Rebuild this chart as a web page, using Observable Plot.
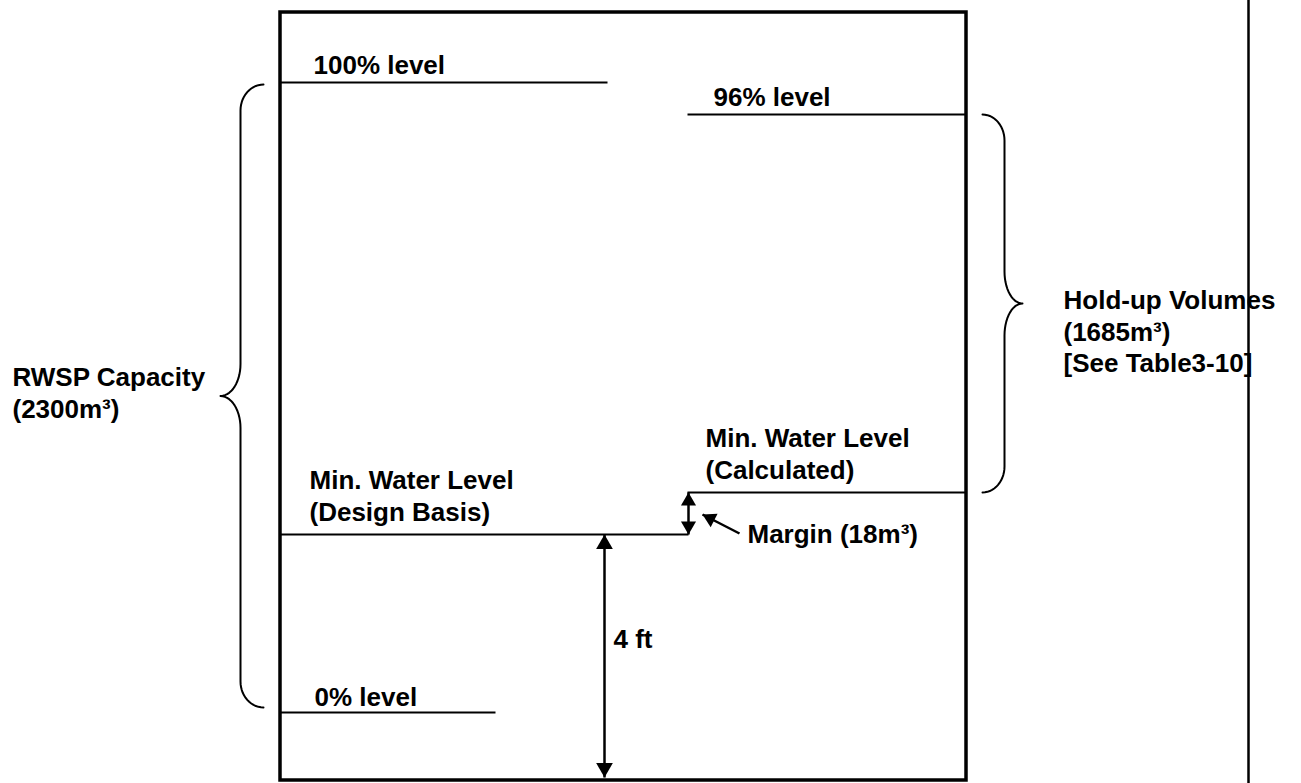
<!DOCTYPE html>
<html>
<head>
<meta charset="utf-8">
<script src="https://cdn.jsdelivr.net/npm/d3@7"></script>
<script src="https://cdn.jsdelivr.net/npm/@observablehq/plot@0.6"></script>
<style>
  html, body { margin: 0; padding: 0; background: #fff; }
  #chart svg { display: block; }
</style>
</head>
<body>
<div id="chart"></div>
<script>
// ---- Diagram data (in page units) ----
const levelNames = ["100% level", "96% level", "Min. Water Level (Calculated)", "Min. Water Level (Design Basis)", "0% level"];
const levelY  = [82, 114, 492, 534, 712];
const levelX1 = [280, 687, 687, 280, 280];
const levelX2 = [607, 966, 966, 688, 495];

const labelText = ["100% level", "96% level", "Min. Water Level", "(Calculated)", "Min. Water Level", "(Design Basis)",
  "0% level", "4 ft", "Margin (18m³)", "RWSP Capacity", "(2300m³)", "Hold-up Volumes", "(1685m³)", "[See Table3-10]"];
const labelX = [313, 713, 705, 705, 309, 309, 314, 613, 747, 12, 12, 1063, 1063, 1063];
const labelY = [73, 105, 446, 478, 488, 520, 705, 647, 542, 385, 417, 308, 340, 371];

const tank = {x1: 280, x2: 966, y1: 12, y2: 780};
const sideLineX = [1248];

// braces: end x, vertical x, tip x, top y, bottom y
const braceNames = ["RWSP Capacity", "Hold-up Volumes"];
const braceEndX  = [263, 982];
const braceVertX = [240, 1004];
const braceTipX  = [220, 1022];
const braceTop   = [84, 114];
const braceBot   = [707, 492];

// arrows: from (x1,y1) to (x2,y2)
const arrowX1 = [604, 688, 739];
const arrowY1 = [534, 492, 533];
const arrowX2 = [604, 688, 702];
const arrowY2 = [777, 534, 514];
const arrowStartHead = [true, true, false];
const arrowHeadR = [6.2, 5.6, 5.6];

// ---- build tables ----
const levels = levelNames.map((n, i) => ({n, y: levelY[i], x1: levelX1[i], x2: levelX2[i]}));
const labels = labelText.map((t, i) => ({t, x: labelX[i], y: labelY[i]}));

function bracePoints(k) {
  const xe = braceEndX[k], xv = braceVertX[k], xt = braceTipX[k];
  const top = braceTop[k], bot = braceBot[k], mid = (top + bot) / 2;
  const r = 26, rm = 32, N = 14;
  const pts = [];
  for (let i = 0; i <= N; i++) { const t = i / N * Math.PI / 2;
    pts.push({x: xe + (xv - xe) * Math.sin(t), y: top + r - r * Math.cos(t)}); }
  for (let i = 0; i <= N; i++) { const t = i / N * Math.PI / 2;
    pts.push({x: xt + (xv - xt) * Math.cos(t), y: mid - rm + rm * Math.sin(t)}); }
  for (let i = 0; i <= N; i++) { const t = (N - i) / N * Math.PI / 2;
    pts.push({x: xt + (xv - xt) * Math.cos(t), y: mid + rm - rm * Math.sin(t)}); }
  for (let i = 0; i <= N; i++) { const t = (N - i) / N * Math.PI / 2;
    pts.push({x: xe + (xv - xe) * Math.sin(t), y: bot - r + r * Math.cos(t)}); }
  return pts.map(p => ({...p, b: braceNames[k]}));
}
const braces = [...bracePoints(0), ...bracePoints(1)];

// arrow shafts and heads
const shafts = arrowX1.map((x, i) => ({x1: x, y1: arrowY1[i], x2: arrowX2[i], y2: arrowY2[i]}));
const heads = [];
function addHead(tx, ty, fx, fy, r) {
  const dx = tx - fx, dy = ty - fy, L = Math.hypot(dx, dy);
  const ux = dx / L, uy = dy / L;
  const size = r * r * Math.PI;
  const yy = Math.sqrt(size / (Math.sqrt(3) * 3));
  const off = 2 * yy;
  const rot = Math.atan2(ux, -uy) * 180 / Math.PI;
  heads.push({x: tx - ux * off, y: ty - uy * off, r, rot});
}
shafts.forEach((s, i) => {
  addHead(s.x2, s.y2, s.x1, s.y1, arrowHeadR[i]);
  if (arrowStartHead[i]) addHead(s.x1, s.y1, s.x2, s.y2, arrowHeadR[i]);
});
const headSizes = Array.from(new Set(arrowHeadR));

const font = "'Liberation Sans', Arial, Helvetica, sans-serif";

const chart = Plot.plot({
  width: 1301,
  height: 783,
  margin: 0,
  style: {background: "#fff", fontFamily: font},
  x: {domain: [0, 1301], range: [0, 1301], axis: null},
  y: {domain: [0, 783], range: [0, 783], axis: null},
  marks: [
    Plot.rect([tank], {x1: "x1", x2: "x2", y1: "y1", y2: "y2", fill: "none", stroke: "#000", strokeWidth: 3.5}),
    Plot.ruleX(sideLineX, {y1: 0, y2: 783, stroke: "#000", strokeWidth: 2.5}),
    Plot.link(levels, {x1: "x1", x2: "x2", y1: "y", y2: "y", stroke: "#000", strokeWidth: 2}),
    Plot.line(braces, {x: "x", y: "y", z: "b", stroke: "#000", strokeWidth: 2, curve: "linear"}),
    Plot.link(shafts, {x1: "x1", y1: "y1", x2: "x2", y2: "y2", stroke: "#000", strokeWidth: 2.5}),
    ...headSizes.map(rv => Plot.dot(heads.filter(h => h.r === rv),
      {x: "x", y: "y", r: rv, rotate: "rot", symbol: "triangle", fill: "#000", stroke: "none"})),
    Plot.text(labels, {x: "x", y: "y", text: "t", textAnchor: "start", lineAnchor: "bottom",
      fontSize: 26, fontWeight: "bold", fill: "#000", fontFamily: font})
  ]
});
document.getElementById("chart").appendChild(chart);
</script>
</body>
</html>
